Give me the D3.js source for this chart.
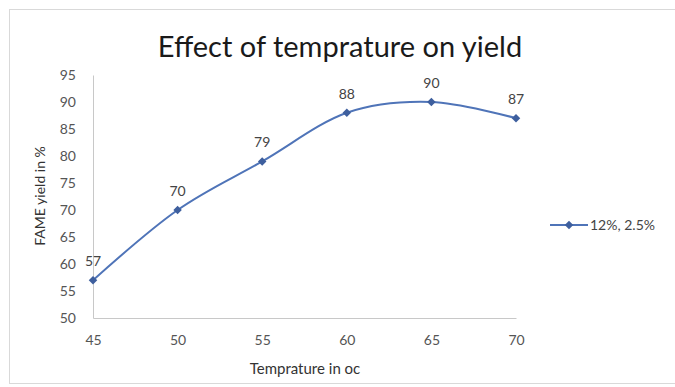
<!DOCTYPE html>
<html>
<head>
<meta charset="utf-8">
<script src="https://cdn.jsdelivr.net/npm/d3@7"></script>
<style>
  body { margin: 0; background: #fff; }
  text { font-family: Lato, "Open Sans", sans-serif; }
</style>
</head>
<body>
<svg width="675" height="387"></svg>
<script>
// chart data
var temps = [45, 50, 55, 60, 65, 70];
var yields = [57, 70, 79, 88, 90, 87];
var yTicks = [50, 55, 60, 65, 70, 75, 80, 85, 90, 95];
var seriesName = '12%, 2.5%';

var svg = d3.select('svg');

// outer chart frame
svg.append('rect')
    .attr('x', 9.5).attr('y', 9.5)
    .attr('width', 680).attr('height', 374)
    .attr('fill', '#fff')
    .attr('stroke', '#d9d9d9');

var x = d3.scaleLinear().domain([45, 70]).range([93, 516]);
var y = d3.scaleLinear().domain([50, 95]).range([318, 75]);

svg.append('text')
    .attr('x', 340).attr('y', 57)
    .attr('text-anchor', 'middle')
    .attr('font-size', 29)
    .attr('fill', '#1a1a1a')
    .text('Effect of temprature on yield');

// axes - no tick marks, just the line and labels
var xAxis = svg.append('g')
    .attr('transform', 'translate(0,318)')
    .call(d3.axisBottom(x).tickValues(temps).tickSize(0).tickPadding(17));
var yAxis = svg.append('g')
    .attr('transform', 'translate(93,0)')
    .call(d3.axisLeft(y).tickValues(yTicks).tickSize(0).tickPadding(17));

[xAxis, yAxis].forEach(function(g) {
    g.select('.domain').attr('stroke', '#c8c8c8');
    g.selectAll('text')
        .attr('font-family', 'Lato, sans-serif')
        .attr('font-size', 14)
        .attr('fill', '#555');
});

svg.append('text')
    .attr('x', 305).attr('y', 374)
    .attr('text-anchor', 'middle')
    .attr('font-size', 15)
    .attr('fill', '#333')
    .text('Temprature in oc');

svg.append('text')
    .attr('transform', 'translate(45,196) rotate(-90)')
    .attr('text-anchor', 'middle')
    .attr('font-size', 14)
    .attr('fill', '#333')
    .text('FAME yield in %');

var points = temps.map(function(t, i) { return { t: t, v: yields[i] }; });

var line = d3.line()
    .x(d => x(d.t))
    .y(d => y(d.v))
    .curve(d3.curveCardinal.tension(0));

svg.append('path')
    .datum(points)
    .attr('d', line)
    .attr('fill', 'none')
    .attr('stroke', '#4f74b8')
    .attr('stroke-width', 2);

svg.selectAll('rect.marker')
    .data(points)
    .enter().append('rect')
    .attr('class', 'marker')
    .attr('x', d => x(d.t) - 3)
    .attr('y', d => y(d.v) - 3)
    .attr('width', 6).attr('height', 6)
    .attr('transform', d => 'rotate(45,' + x(d.t) + ',' + y(d.v) + ')')
    .attr('fill', '#3e5f9e');

svg.selectAll('text.lbl')
    .data(points)
    .enter().append('text')
    .attr('class', 'lbl')
    .attr('x', d => x(d.t))
    .attr('y', d => y(d.v) - 14)
    .attr('text-anchor', 'middle')
    .attr('font-size', 14)
    .attr('fill', '#444')
    .text(d => d.v);

// legend
var lg = svg.append('g').attr('transform', 'translate(550,225)');
lg.append('line')
    .attr('x1', 0).attr('x2', 38)
    .attr('stroke', '#4f74b8').attr('stroke-width', 2);
lg.append('rect')
    .attr('x', 16).attr('y', -3).attr('width', 6).attr('height', 6)
    .attr('transform', 'rotate(45,19,0)')
    .attr('fill', '#3e5f9e');
lg.append('text')
    .attr('x', 40).attr('y', 5)
    .attr('font-size', 14)
    .attr('fill', '#444')
    .text(seriesName);
</script>
</body>
</html>
